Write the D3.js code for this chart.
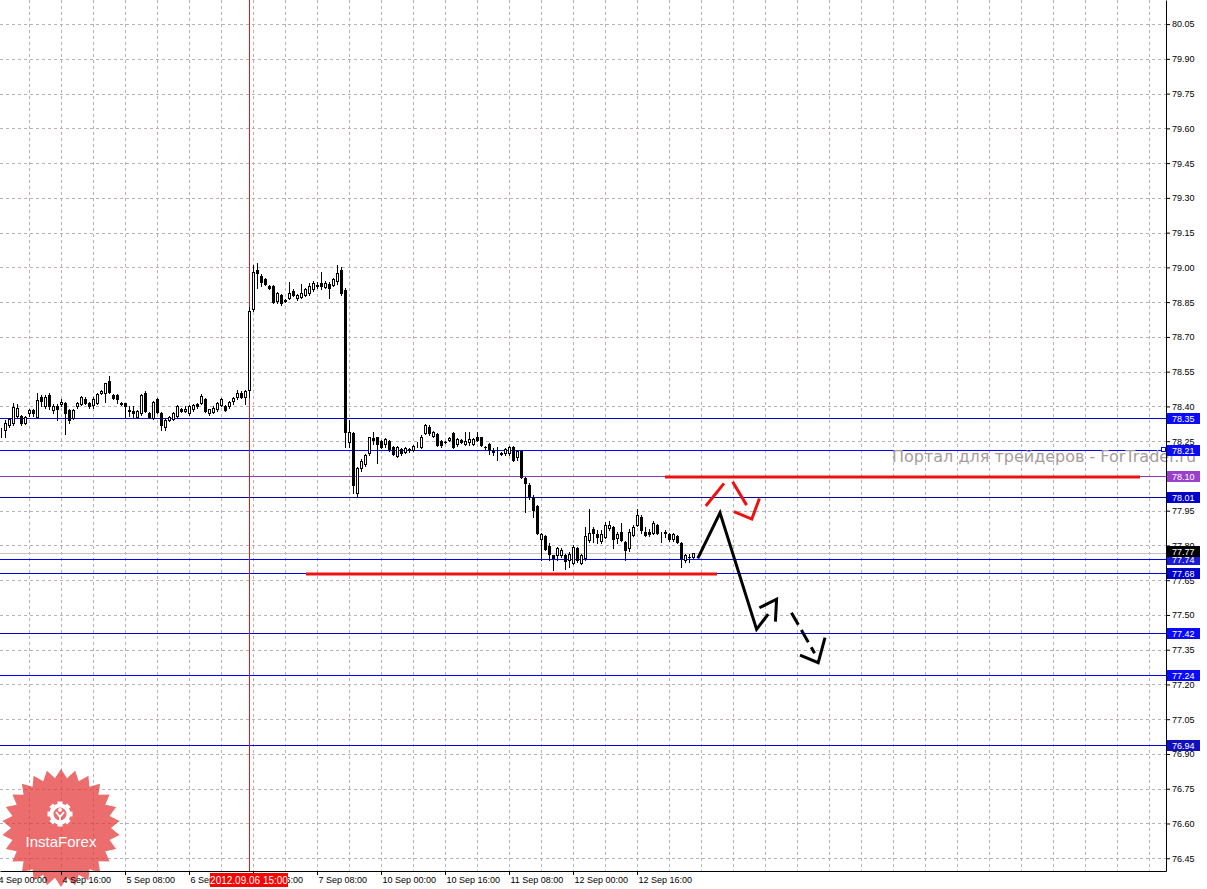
<!DOCTYPE html>
<html>
<head>
<meta charset="utf-8">
<script src="https://cdn.jsdelivr.net/npm/d3@7"></script>
<style>
  body { margin: 0; background: #fff; }
  svg { display: block; }
</style>
</head>
<body>
<svg id="chart"></svg>
<script>
// USDJPY H1, 4 Sep - 13 Sep 2012 (bar 0 = 4 Sep 00:00, weekend bars removed)
var firstBar = 1;

var opens = [
  78.293,78.298,78.320,78.327,78.360,78.360,78.330,78.370,78.385,78.356,
  78.440,78.400,78.450,78.385,78.400,78.410,78.413,78.385,78.350,78.400,
  78.410,78.430,78.415,78.405,78.415,78.460,78.460,78.510,78.450,78.450,
  78.410,78.413,78.385,78.380,78.356,78.370,78.460,78.370,78.350,78.430,
  78.370,78.313,78.341,78.345,78.360,78.390,78.380,78.370,78.387,78.410,
  78.416,78.430,78.370,78.375,78.387,78.405,78.400,78.400,78.425,78.440,
  78.460,78.440,78.471,78.819,78.990,78.963,78.948,78.920,78.920,78.856,
  78.880,78.860,78.869,78.900,78.866,78.874,78.880,78.888,78.905,78.920,
  78.934,78.917,78.930,78.924,78.941,78.990,78.902,78.248,78.284,78.028,
  78.133,78.150,78.198,78.263,78.267,78.250,78.237,78.250,78.226,78.188,
  78.216,78.205,78.210,78.212,78.237,78.226,78.284,78.313,78.274,78.281,
  78.250,78.248,78.255,78.284,78.237,78.255,78.237,78.245,78.237,78.270,
  78.267,78.227,78.238,78.206,78.204,78.200,78.198,78.198,78.227,78.183,
  78.209,78.090,78.061,78.003,77.970,77.827,77.840,77.798,77.759,77.759,
  77.759,77.759,77.737,77.726,77.788,77.726,77.747,77.823,77.870,77.848,
  77.820,77.838,77.874,77.878,77.830,77.860,77.816,77.788,77.845,77.888,
  77.921,77.856,77.858,77.852,77.888,77.845,77.860,77.848,77.826,77.840,
  77.809,77.737,77.752,77.751
];
var highs = [
  78.305,78.341,78.350,78.416,78.410,78.365,78.360,78.390,78.390,78.460,
  78.450,78.450,78.460,78.410,78.410,78.430,78.420,78.390,78.390,78.420,
  78.445,78.440,78.420,78.440,78.460,78.470,78.503,78.530,78.455,78.455,
  78.420,78.415,78.400,78.400,78.385,78.455,78.465,78.375,78.425,78.435,
  78.375,78.345,78.360,78.375,78.405,78.395,78.400,78.405,78.410,78.415,
  78.455,78.435,78.390,78.400,78.420,78.435,78.405,78.425,78.440,78.470,
  78.465,78.470,78.830,79.010,79.017,78.970,78.955,78.925,78.925,78.895,
  78.885,78.865,78.938,78.905,78.885,78.930,78.910,78.934,78.940,78.935,
  78.980,78.940,78.935,78.955,79.010,79.000,78.910,78.340,78.291,78.140,
  78.175,78.195,78.270,78.290,78.270,78.255,78.262,78.255,78.230,78.230,
  78.220,78.225,78.222,78.232,78.245,78.275,78.325,78.318,78.295,78.285,
  78.255,78.250,78.270,78.290,78.265,78.260,78.288,78.290,78.262,78.288,
  78.270,78.230,78.242,78.220,78.226,78.205,78.220,78.230,78.230,78.212,
  78.210,78.095,78.070,78.018,77.975,77.855,77.845,77.812,77.760,77.795,
  77.790,77.762,77.770,77.800,77.792,77.765,77.878,77.956,77.880,77.867,
  77.867,77.903,77.907,77.882,77.860,77.898,77.820,77.870,77.888,77.956,
  77.930,77.880,77.873,77.907,77.893,77.860,77.866,77.852,77.852,77.845,
  77.815,77.765,77.765,77.769
];
var lows = [
  78.270,78.270,78.310,78.320,78.355,78.320,78.325,78.360,78.360,78.350,
  78.400,78.395,78.390,78.370,78.340,78.400,78.280,78.330,78.345,78.395,
  78.405,78.410,78.395,78.395,78.410,78.455,78.420,78.460,78.430,78.413,
  78.405,78.356,78.360,78.356,78.350,78.365,78.375,78.350,78.345,78.370,
  78.300,78.300,78.335,78.340,78.355,78.375,78.375,78.365,78.380,78.395,
  78.410,78.375,78.365,78.370,78.380,78.400,78.380,78.395,78.410,78.430,
  78.435,78.410,78.440,78.810,78.910,78.920,78.925,78.905,78.845,78.845,
  78.838,78.850,78.865,78.875,78.860,78.866,78.875,78.880,78.900,78.910,
  78.905,78.910,78.869,78.920,78.930,78.880,78.227,78.227,78.025,78.011,
  78.123,78.145,78.190,78.237,78.155,78.220,78.226,78.208,78.190,78.180,
  78.190,78.200,78.205,78.208,78.226,78.222,78.280,78.278,78.270,78.230,
  78.225,78.240,78.252,78.222,78.230,78.240,78.232,78.234,78.232,78.250,
  78.230,78.215,78.195,78.190,78.170,78.190,78.190,78.190,78.165,78.170,
  78.090,77.946,78.000,77.924,77.850,77.737,77.780,77.737,77.694,77.737,
  77.750,77.697,77.708,77.720,77.730,77.720,77.737,77.815,77.816,77.810,
  77.810,77.830,77.868,77.788,77.812,77.820,77.737,77.778,77.840,77.885,
  77.852,77.840,77.840,77.848,77.850,77.816,77.838,77.820,77.820,77.810,
  77.705,77.730,77.730,77.745
];
var closes = [
  78.295,78.327,78.344,78.399,78.395,78.327,78.356,78.385,78.370,78.428,
  78.425,78.440,78.400,78.400,78.390,78.420,78.370,78.340,78.385,78.415,
  78.440,78.415,78.400,78.430,78.455,78.468,78.500,78.464,78.435,78.430,
  78.415,78.400,78.380,78.370,78.380,78.450,78.380,78.356,78.420,78.375,
  78.320,78.341,78.356,78.370,78.400,78.380,78.390,78.400,78.405,78.400,
  78.445,78.380,78.387,78.395,78.415,78.430,78.385,78.420,78.435,78.460,
  78.440,78.465,78.812,78.981,78.974,78.938,78.928,78.910,78.850,78.888,
  78.845,78.856,78.891,78.880,78.880,78.888,78.905,78.920,78.934,78.922,
  78.920,78.934,78.910,78.948,78.977,78.888,78.291,78.290,78.061,78.133,
  78.166,78.190,78.267,78.256,78.237,78.227,78.258,78.215,78.195,78.226,
  78.198,78.220,78.218,78.229,78.238,78.270,78.320,78.284,78.291,78.234,
  78.234,78.246,78.265,78.227,78.258,78.245,78.251,78.260,78.258,78.255,
  78.234,78.226,78.212,78.205,78.205,78.193,78.215,78.226,78.170,78.208,
  78.097,78.068,78.015,77.953,77.855,77.848,77.785,77.763,77.747,77.788,
  77.780,77.733,77.762,77.795,77.737,77.759,77.840,77.855,77.852,77.835,
  77.850,77.888,77.888,77.826,77.850,77.824,77.780,77.860,77.878,77.931,
  77.867,77.847,77.849,77.898,77.855,77.845,77.855,77.826,77.848,77.816,
  77.747,77.759,77.751,77.766
];

var priceTicks = d3.range(25).map(function (k) { return +(76.45 + 0.15 * k).toFixed(2); });
var timeLabels = ["4 Sep 00:00", "4 Sep 16:00", "5 Sep 08:00", "6 Sep 00:00", "6 Sep 16:00",
  "7 Sep 08:00", "10 Sep 00:00", "10 Sep 16:00", "11 Sep 08:00", "12 Sep 00:00", "12 Sep 16:00"];
var timeLabelBars = [0, 16, 32, 48, 64, 80, 96, 112, 128, 144, 160];
var gridBars = d3.range(8, 292, 8);

// horizontal levels drawn on the chart
var levelPrices = [78.35, 78.21, 78.01, 77.74, 77.68, 77.42, 77.24, 76.94];
var pivotPrice = 78.10;
var bidPrice = 77.776;
var bidLabel = "77.77";

var cursorBar = 63;
var cursorLabel = "2012.09.06 15:00";

// hand drawn trend lines and forecast arrows: [bar, price]
var supportLine = [[77.25, 77.677], [180, 77.677]];
var resistLine = [[167, 78.095], [285.75, 78.095]];
var blackPath = [[175.2, 77.744], [180.75, 77.941], [189.9, 77.438], [192.8, 77.504]];
var blackHeadUp = [[190.6, 77.531], [194.9, 77.568], [194.6, 77.471]];
var blackDashed = [[198.6, 77.510], [204.4, 77.335]];
var blackHeadDown = [[200.75, 77.327], [205.3, 77.294], [207, 77.402]];
var redUp = [[177.2, 77.970], [181.75, 78.068]];
var redDown = [[183.9, 78.075], [187.4, 77.974]];
var redHead = [[184.25, 77.946], [188.7, 77.914], [190.6, 78.003]];

var watermark = "Портал для трейдеров - ForTrader.ru";
var logoText = "InstaForex";

// ---------------------------------------------------------------
var width = 1207, height = 889;
var plotRight = 1166, plotBottom = 871;

var x = d3.scaleLinear().domain([0.75, 292.25]).range([0, plotRight]);
var y = d3.scaleLinear().domain([76.395, 80.154]).range([plotBottom, 0]);

var px = function (i) { return Math.round(x(i)); };
var py = function (p) { return Math.round(y(p)); };

var svg = d3.select("#chart")
  .attr("width", width)
  .attr("height", height)
  .attr("viewBox", [0, 0, width, height]);

svg.append("rect").attr("width", width).attr("height", height).attr("fill", "#fff");

var plot = svg.append("g");

// grid
plot.append("g").selectAll("line")
  .data(priceTicks)
  .join("line")
  .attr("x1", 0).attr("x2", plotRight)
  .attr("y1", d => py(d) + 0.5).attr("y2", d => py(d) + 0.5)
  .attr("stroke", "#b9b0bb").attr("stroke-dasharray", "3,3");

plot.append("g").selectAll("line")
  .data(gridBars)
  .join("line")
  .attr("x1", d => px(d) + 0.5).attr("x2", d => px(d) + 0.5)
  .attr("y1", 0).attr("y2", plotBottom)
  .attr("stroke", "#b9b0bb").attr("stroke-dasharray", "3,3");

// bid line
plot.append("line")
  .attr("x1", 0).attr("x2", plotRight)
  .attr("y1", py(closes[closes.length - 1]) + 0.5).attr("y2", py(closes[closes.length - 1]) + 0.5)
  .attr("stroke", "#c4c4c4");

// level lines
var levelColor = d => ({78.35: "#0000d8", 78.21: "#0000ff", 78.01: "#0000a8", 77.74: "#0000ff",
  77.68: "#0000e0", 77.42: "#0000d0", 77.24: "#0000ff", 76.94: "#0000e0"})[d];
var boxColor = d => ({78.35: "#0a0aff", 78.21: "#0a0aff", 78.01: "#0000cc", 77.74: "#1a1ad8",
  77.68: "#0000cc", 77.42: "#0a0aff", 77.24: "#0a0aff", 76.94: "#1010c0"})[d];

plot.append("g").selectAll("line")
  .data(levelPrices)
  .join("line")
  .attr("x1", 0).attr("x2", plotRight)
  .attr("y1", d => py(d) + 0.5).attr("y2", d => py(d) + 0.5)
  .attr("stroke", levelColor);

plot.append("line")
  .attr("x1", 0).attr("x2", plotRight)
  .attr("y1", py(pivotPrice) + 0.5).attr("y2", py(pivotPrice) + 0.5)
  .attr("stroke", "#8a3cc0");

// cursor line
plot.append("line")
  .attr("x1", px(cursorBar) + 0.5).attr("x2", px(cursorBar) + 0.5)
  .attr("y1", 0).attr("y2", plotBottom)
  .attr("stroke", "#e01818");

// candles
var candles = opens.map(function (o, k) {
  return { i: firstBar + k, o: o, h: highs[k], l: lows[k], c: closes[k] };
});

var cg = plot.append("g").selectAll("g")
  .data(candles)
  .join("g");

cg.append("rect")
  .attr("x", d => px(d.i))
  .attr("y", d => py(d.h))
  .attr("width", 1)
  .attr("height", d => py(d.l) - py(d.h) + 1)
  .attr("fill", "#000");

cg.filter(d => d.c >= d.o).append("rect")
  .attr("x", d => px(d.i) - 0.5)
  .attr("y", d => py(d.c) + 0.5)
  .attr("width", 2)
  .attr("height", d => Math.max(py(d.o) - py(d.c), 0))
  .attr("fill", "#fff")
  .attr("stroke", "#000");

cg.filter(d => d.c < d.o).append("rect")
  .attr("x", d => px(d.i) - 1)
  .attr("y", d => py(d.o))
  .attr("width", 3)
  .attr("height", d => py(d.c) - py(d.o) + 1)
  .attr("fill", "#000");

// trend lines and arrows
var line = d3.line().x(d => x(d[0])).y(d => y(d[1]));

plot.append("path").datum(supportLine).attr("d", line)
  .attr("fill", "none").attr("stroke", "#ee1111").attr("stroke-width", 3);
plot.append("path").datum(resistLine).attr("d", line)
  .attr("fill", "none").attr("stroke", "#ee1111").attr("stroke-width", 3);

[blackPath, blackHeadUp, blackHeadDown].forEach(function (pts) {
  plot.append("path").datum(pts).attr("d", line)
    .attr("fill", "none").attr("stroke", "#000").attr("stroke-width", 3)
    .attr("stroke-linejoin", "miter");
});
plot.append("path").datum(blackDashed).attr("d", line)
  .attr("fill", "none").attr("stroke", "#000").attr("stroke-width", 3)
  .attr("stroke-dasharray", "14,6");

[redUp, redDown, redHead].forEach(function (pts) {
  plot.append("path").datum(pts).attr("d", line)
    .attr("fill", "none").attr("stroke", "#ee1111").attr("stroke-width", 3);
});

// watermark
svg.append("text")
  .attr("x", 892).attr("y", 462)
  .attr("font-family", "DejaVu Sans, sans-serif")
  .attr("font-size", 16)
  .attr("fill", "#a89c9c")
  .text(watermark);

// InstaForex badge
var logo = svg.append("g").attr("transform", "translate(61,828)");
var nPts = 26, rOut = 59, rIn = 50;
var star = d3.range(nPts * 2).map(function (k) {
  var a = Math.PI * k / nPts - Math.PI / 2;
  var r = k % 2 ? rIn : rOut;
  return [r * Math.cos(a), r * Math.sin(a)];
});
logo.append("path")
  .attr("d", "M" + star.join("L") + "Z")
  .attr("fill", "#e53535")
  .attr("fill-opacity", 0.72);

var gear = logo.append("g").attr("transform", "translate(-1,-14)");
d3.range(8).forEach(function (k) {
  gear.append("rect")
    .attr("x", -2.5).attr("y", -12.5).attr("width", 5).attr("height", 5)
    .attr("fill", "#fff")
    .attr("transform", "rotate(" + (k * 45) + ")");
});
gear.append("circle").attr("r", 8.5).attr("fill", "none").attr("stroke", "#fff").attr("stroke-width", 4);
gear.append("circle").attr("cy", -4).attr("r", 2).attr("fill", "#fff");
gear.append("path").attr("d", "M-4,-2 L0,3 L4,-2 M0,3 L0,10")
  .attr("fill", "none").attr("stroke", "#fff").attr("stroke-width", 2);

logo.append("text")
  .attr("y", 19)
  .attr("text-anchor", "middle")
  .attr("font-family", "Liberation Sans, Arial, sans-serif")
  .attr("font-size", 15)
  .attr("fill", "#fff")
  .text(logoText);

// axes
var fontAxis = "Liberation Sans, Arial, sans-serif";

var yAxis = svg.append("g")
  .attr("transform", `translate(${plotRight},0)`)
  .call(d3.axisRight(y).tickValues(priceTicks).tickFormat(d3.format(".2f"))
    .tickSize(4).tickSizeOuter(0).tickPadding(2));
yAxis.selectAll("text").attr("font-family", fontAxis).attr("font-size", 9).attr("fill", "#000");

var xAxis = svg.append("g")
  .attr("transform", `translate(0,${plotBottom})`)
  .call(d3.axisBottom(x).tickValues(timeLabelBars).tickFormat((d, k) => timeLabels[k])
    .tickSize(4).tickSizeOuter(0).tickPadding(2));
xAxis.selectAll("text")
  .attr("font-family", fontAxis).attr("font-size", 9).attr("fill", "#000")
  .attr("text-anchor", "start").attr("x", 1);

// price labels on the scale
function priceBox(p, text, fill) {
  var g = svg.append("g").attr("transform", `translate(${plotRight + 1},${py(p)})`);
  g.append("rect").attr("x", 0).attr("y", -5).attr("width", 33).attr("height", 11).attr("fill", fill);
  g.append("text").attr("x", 5).attr("y", 3.5)
    .attr("font-family", fontAxis).attr("font-size", 9).attr("fill", "#fff")
    .text(text);
}
levelPrices.forEach(p => priceBox(p, d3.format(".2f")(p), boxColor(p)));
priceBox(pivotPrice, d3.format(".2f")(pivotPrice), "#9a3fcc");
priceBox(bidPrice, bidLabel, "#000");

svg.append("rect")
  .attr("x", plotRight - 4.5).attr("y", py(78.21) - 2.5)
  .attr("width", 4).attr("height", 4)
  .attr("fill", "#fff").attr("stroke", "#0000ff");

// cursor time label
var cl = svg.append("g").attr("transform", `translate(${px(cursorBar)},${plotBottom + 2})`);
cl.append("rect").attr("x", -39).attr("y", 0).attr("width", 78).attr("height", 14).attr("fill", "#ff0000");
cl.append("text").attr("x", 0).attr("y", 10.5)
  .attr("text-anchor", "middle")
  .attr("font-family", fontAxis).attr("font-size", 10).attr("fill", "#fff")
  .text(cursorLabel);
</script>
</body>
</html>
